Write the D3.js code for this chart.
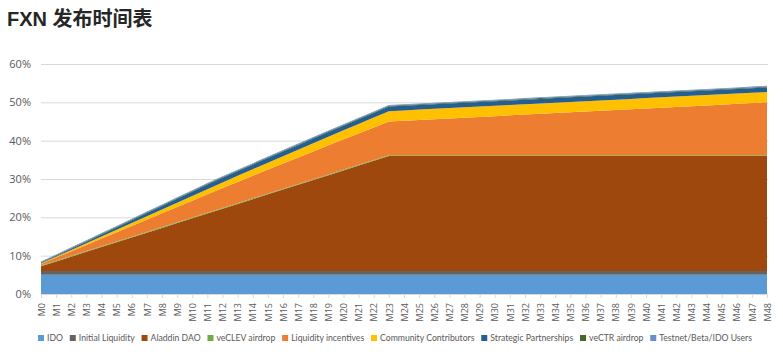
<!DOCTYPE html>
<html>
<head>
<meta charset="utf-8">
<script src="https://cdn.jsdelivr.net/npm/d3@7"></script>
<style>
  body { margin: 0; background: #fff; }
  svg { display: block; font-family: "Open Sans", "Noto Sans", sans-serif; }
</style>
</head>
<body>
<svg id="chart"></svg>
<script>
// months M0..M48
const months = ['M0','M1','M2','M3','M4','M5','M6','M7','M8','M9','M10','M11','M12','M13','M14','M15','M16','M17','M18','M19','M20','M21','M22','M23','M24','M25','M26','M27','M28','M29','M30','M31','M32','M33','M34','M35','M36','M37','M38','M39','M40','M41','M42','M43','M44','M45','M46','M47','M48'];

const seriesNames = ['IDO', 'Initial Liquidity', 'Aladdin DAO', 'veCLEV airdrop', 'Liquidity incentives', 'Community Contributors', 'Strategic Partnerships', 'veCTR airdrop', 'Testnet/Beta/IDO Users'];
const seriesColors = ['#5b9bd5', '#636363', '#9e480e', '#70ad47', '#ed7d31', '#ffc000', '#255e91', '#43682b', '#698ed0'];

// values in % of supply, one per month
const ido = [5,5,5,5,5,5,5,5,5,5,5,5,5,5,5,5,5,5,5,5,5,5,5,5,5,5,5,5,5,5,5,5,5,5,5,5,5,5,5,5,5,5,5,5,5,5,5,5,5];
const initialLiquidity = [1,1,1,1,1,1,1,1,1,1,1,1,1,1,1,1,1,1,1,1,1,1,1,1,1,1,1,1,1,1,1,1,1,1,1,1,1,1,1,1,1,1,1,1,1,1,1,1,1];
const aladdinDao = [1.25,2.5,3.75,5,6.25,7.5,8.75,10,11.25,12.5,13.75,15,16.25,17.5,18.75,20,21.25,22.5,23.75,25,26.25,27.5,28.75,30,30,30,30,30,30,30,30,30,30,30,30,30,30,30,30,30,30,30,30,30,30,30,30,30,30];
const veClevAirdrop = [0.2,0.2,0.2,0.2,0.2,0.2,0.2,0.2,0.2,0.2,0.2,0.2,0.2,0.2,0.2,0.2,0.2,0.2,0.2,0.2,0.2,0.2,0.2,0.2,0.2,0.2,0.2,0.2,0.2,0.2,0.2,0.2,0.2,0.2,0.2,0.2,0.2,0.2,0.2,0.2,0.2,0.2,0.2,0.2,0.2,0.2,0.2,0.2,0.2];
const liquidityIncentives = [0.4,0.8,1.2,1.6,2.0,2.4,2.8,3.2,3.6,4.0,4.4,4.8,5.2,5.55,5.9,6.25,6.6,6.9,7.25,7.6,7.9,8.2,8.5,8.8,9.0,9.2,9.4,9.6,9.8,10.0,10.2,10.4,10.6,10.8,11.0,11.2,11.4,11.6,11.8,12.0,12.2,12.4,12.6,12.8,13.0,13.2,13.4,13.6,13.8];
const communityContributors = [0.11,0.22,0.34,0.45,0.56,0.67,0.79,0.9,1.01,1.13,1.24,1.35,1.46,1.58,1.69,1.8,1.91,2.03,2.14,2.25,2.36,2.48,2.59,2.7,2.7,2.7,2.7,2.7,2.7,2.7,2.7,2.7,2.7,2.7,2.7,2.7,2.7,2.7,2.7,2.7,2.7,2.7,2.7,2.7,2.7,2.7,2.7,2.7,2.7];
const strategicPartnerships = [0.1,0.2,0.3,0.4,0.5,0.6,0.7,0.8,0.9,1.0,1.1,1.2,1.2,1.2,1.2,1.2,1.2,1.2,1.2,1.2,1.2,1.2,1.2,1.2,1.2,1.2,1.2,1.2,1.2,1.2,1.2,1.2,1.2,1.2,1.2,1.2,1.2,1.2,1.2,1.2,1.2,1.2,1.2,1.2,1.2,1.2,1.2,1.2,1.2];
const veCtrAirdrop = [0.2,0.2,0.2,0.2,0.2,0.2,0.2,0.2,0.2,0.2,0.2,0.2,0.2,0.2,0.2,0.2,0.2,0.2,0.2,0.2,0.2,0.2,0.2,0.2,0.2,0.2,0.2,0.2,0.2,0.2,0.2,0.2,0.2,0.2,0.2,0.2,0.2,0.2,0.2,0.2,0.2,0.2,0.2,0.2,0.2,0.2,0.2,0.2,0.2];
const testnetUsers = [0.2,0.2,0.2,0.2,0.2,0.2,0.2,0.2,0.2,0.2,0.2,0.2,0.2,0.2,0.2,0.2,0.2,0.2,0.2,0.2,0.2,0.2,0.2,0.2,0.2,0.2,0.2,0.2,0.2,0.2,0.2,0.2,0.2,0.2,0.2,0.2,0.2,0.2,0.2,0.2,0.2,0.2,0.2,0.2,0.2,0.2,0.2,0.2,0.2];

const yTicks = [0, 10, 20, 30, 40, 50, 60];

const allSeries = [ido, initialLiquidity, aladdinDao, veClevAirdrop, liquidityIncentives, communityContributors, strategicPartnerships, veCtrAirdrop, testnetUsers];
const table = months.map((m, i) => {
  const row = { month: m };
  seriesNames.forEach((name, k) => { row[name] = allSeries[k][i]; });
  return row;
});

const w = 783;
const h = 352;
const plotLeft = 41, plotRight = 767, plotTop = 64, plotBottom = 294;

const svg = d3.select('#chart')
  .attr('width', w)
  .attr('height', h);

svg.append('text')
  .attr('x', 7)
  .attr('y', 26)
  .attr('font-family', '"Liberation Sans", "Noto Sans CJK SC", sans-serif')
  .attr('font-weight', 'bold')
  .attr('font-size', 20)
  .attr('fill', '#262626')
  .text('FXN 发布时间表');

const xScale = d3.scalePoint()
  .domain(months)
  .range([plotLeft, plotRight]);

const yScale = d3.scaleLinear()
  .domain([0, 60])
  .range([plotBottom, plotTop]);

// gridlines + y labels
const yAxis = d3.axisLeft(yScale)
  .tickValues(yTicks)
  .tickSize(-(plotRight - plotLeft + 1))
  .tickPadding(10)
  .tickFormat(d => d + '%');

svg.append('g')
  .attr('id', 'y-axis')
  .attr('transform', `translate(${plotLeft}, 0)`)
  .call(yAxis)
  .call(g => g.select('.domain').remove())
  .call(g => g.selectAll('line').attr('stroke', '#d9d9d9'))
  .call(g => g.selectAll('text').attr('fill', '#595959').attr('font-size', 11).attr('font-family', '"Open Sans", sans-serif'));

const stack = d3.stack().keys(seriesNames);
const layers = stack(table);

const area = d3.area()
  .x(d => xScale(d.data.month))
  .y0(d => yScale(d[0]))
  .y1(d => yScale(d[1]));

svg.append('g')
  .selectAll('path')
  .data(layers)
  .enter()
  .append('path')
  .attr('d', area)
  .attr('fill', (d, i) => seriesColors[i]);

// x axis
const xAxis = d3.axisBottom(xScale)
  .tickSize(4)
  .tickSizeOuter(0);

svg.append('g')
  .attr('id', 'x-axis')
  .attr('transform', `translate(0, ${plotBottom})`)
  .call(xAxis)
  .call(g => g.select('.domain').attr('stroke', '#d9d9d9'))
  .call(g => g.selectAll('line').attr('stroke', '#d9d9d9'))
  .call(g => g.selectAll('text')
    .attr('fill', '#595959')
    .attr('font-size', 9)
    .attr('font-family', '"Open Sans", sans-serif')
    .attr('text-anchor', 'end')
    .attr('dy', '0.35em')
    .attr('transform', 'rotate(-90)')
    .attr('x', -9)
    .attr('y', 0));

// legend, fitted into the span the reference uses
const legendSpan = 714;
const legend = svg.append('g')
  .attr('font-family', 'Lato, "Open Sans", sans-serif')
  .attr('font-size', 10);

const items = legend.selectAll('g')
  .data(seriesNames)
  .enter()
  .append('g');

items.append('rect')
  .attr('width', 6)
  .attr('height', 6)
  .attr('y', -3)
  .attr('fill', (d, i) => seriesColors[i]);

items.append('text')
  .attr('x', 9)
  .attr('dy', '0.35em')
  .attr('fill', '#595959')
  .text(d => d);

let textSum = 0;
items.each(function () {
  textSum += 9 + d3.select(this).select('text').node().getComputedTextLength();
});
let gap = (legendSpan - textSum) / (seriesNames.length - 1);
if (gap < 8) {
  const k = (legendSpan - 8 * (seriesNames.length - 1)) / textSum;
  legend.attr('font-size', 10 * k);
  textSum = 0;
  items.each(function () {
    textSum += 9 + d3.select(this).select('text').node().getComputedTextLength();
  });
  gap = (legendSpan - textSum) / (seriesNames.length - 1);
}

let cx = 0;
items.each(function () {
  const g = d3.select(this);
  g.attr('transform', `translate(${cx}, 0)`);
  cx += 9 + g.select('text').node().getComputedTextLength() + gap;
});
legend.attr('transform', `translate(38, 338)`);
</script>
</body>
</html>
